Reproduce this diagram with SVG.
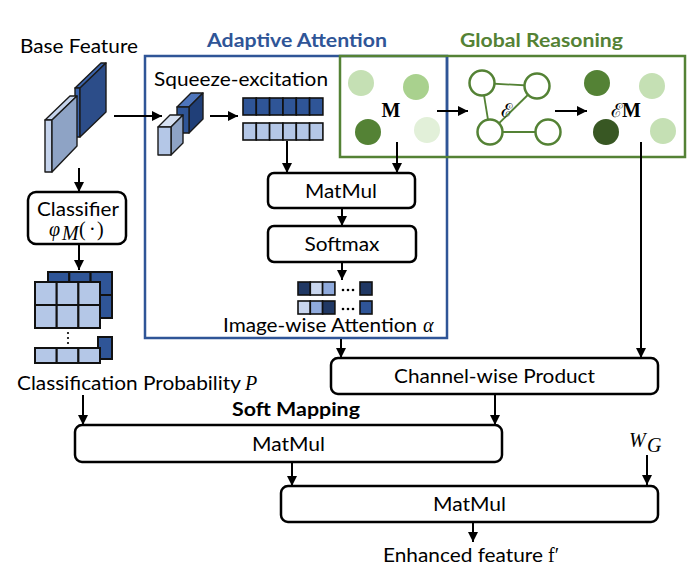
<svg xmlns="http://www.w3.org/2000/svg" width="698" height="569" viewBox="0 0 698 569">
<defs>
<marker id="ah" markerUnits="userSpaceOnUse" markerWidth="11" markerHeight="11" refX="10" refY="5" orient="auto">
<path d="M0,0 L10,5 L0,10 z" fill="#000"/>
</marker>
<style>
.lbl{font-family:Lato,"Liberation Sans",sans-serif;font-size:18.5px;fill:#000}
.ttl{font-family:Lato,"Liberation Sans",sans-serif;font-size:19px;font-weight:bold}
.math{font-family:"Liberation Serif","DejaVu Serif",serif;font-size:20px;font-style:italic;fill:#000}
.mb{font-family:"Liberation Serif","DejaVu Serif",serif;font-size:20px;font-weight:bold;fill:#000}
.scr{font-family:"DejaVu Serif",serif;font-size:19px;fill:#000}
.box{fill:#fff;stroke:#000;stroke-width:2.5}
.conn line{stroke:#000;stroke-width:2;marker-end:url(#ah)}
.cell{stroke:#111;stroke-width:1.6}
.slab{stroke:#1a1a1a;stroke-width:1.4;stroke-linejoin:round}
.gn{fill:#fff;stroke:#548235;stroke-width:2.5}
.ge{stroke:#548235;stroke-width:1.8}
.dk{fill:#2F5597}.lt{fill:#B4C7E7}.nv{fill:#203864}.md{fill:#8FAADC}.vl{fill:#C9D6EE}
</style>
</defs>
<rect width="698" height="569" fill="#fff"/>

<!-- Group frames -->
<g id="adaptive-attention">
<rect x="145" y="56" width="302" height="282" fill="none" stroke="#2F5597" stroke-width="2.5"/>
<text class="ttl" x="207" y="47" fill="#2F5597" textLength="180" lengthAdjust="spacingAndGlyphs">Adaptive Attention</text>
</g>
<g id="global-reasoning">
<rect x="340" y="56" width="345" height="101" fill="none" stroke="#548235" stroke-width="2.5"/>
<line x1="447" y1="57" x2="447" y2="156" stroke="#2F5597" stroke-width="2.5"/>
<text class="ttl" x="460" y="47" fill="#548235" textLength="163" lengthAdjust="spacingAndGlyphs">Global Reasoning</text>
</g>

<!-- Base feature -->
<g id="base-feature">
<text class="lbl" x="20" y="53" textLength="118" lengthAdjust="spacingAndGlyphs">Base Feature</text>
<polygon class="slab" points="75,88 101,63 106,63 80,88" fill="#3B64AD"/>
<polygon class="slab" points="75,88 80,88 80,137 75,137" fill="#3B64AD"/>
<polygon class="slab" points="80,88 106,63 106,112 80,137" fill="#2C4D89"/>
<polygon class="slab" points="45,120 70,96 77,96 52,120" fill="#C5D3EC"/>
<polygon class="slab" points="45,120 52,120 52,172 45,172" fill="#C5D3EC"/>
<polygon class="slab" points="52,120 77,96 77,146 52,172" fill="#8EA3C5"/>
</g>

<!-- Squeeze-excitation -->
<g id="squeeze-excitation">
<text class="lbl" x="154" y="86" textLength="174" lengthAdjust="spacingAndGlyphs">Squeeze-excitation</text>
<polygon class="slab" points="177,107 191,93 203,93 189,107" fill="#4E75BB"/>
<polygon class="slab" points="189,107 203,93 203,119 189,133" fill="#203F78"/>
<rect class="slab" x="177" y="107" width="12" height="26" fill="#2F5597"/>
<polygon class="slab" points="158,127 170,115 183,115 171,127" fill="#D6E0F1"/>
<polygon class="slab" points="171,127 183,115 183,143 171,155" fill="#8EA3C5"/>
<rect class="slab" x="158" y="127" width="13" height="28" fill="#B4C7E7"/>
<g class="cell">
<rect class="dk" x="243" y="98" width="13.3" height="17"/><rect class="dk" x="256.3" y="98" width="13.3" height="17"/><rect class="dk" x="269.6" y="98" width="13.3" height="17"/><rect class="dk" x="283" y="98" width="13.3" height="17"/><rect class="dk" x="296.3" y="98" width="13.3" height="17"/><rect class="dk" x="309.6" y="98" width="13.3" height="17"/>
<rect class="lt" x="243" y="123" width="13.3" height="17"/><rect class="lt" x="256.3" y="123" width="13.3" height="17"/><rect class="lt" x="269.6" y="123" width="13.3" height="17"/><rect class="lt" x="283" y="123" width="13.3" height="17"/><rect class="lt" x="296.3" y="123" width="13.3" height="17"/><rect class="lt" x="309.6" y="123" width="13.3" height="17"/>
</g>
</g>

<!-- M nodes -->
<g id="m-nodes">
<circle cx="361" cy="83" r="13" fill="#C5E0B4"/>
<circle cx="416" cy="87" r="13" fill="#A9D18E"/>
<circle cx="368" cy="132" r="13" fill="#548235"/>
<circle cx="427" cy="130" r="13" fill="#E2F0D9"/>
<text class="mb" x="391" y="117" text-anchor="middle">M</text>
</g>

<!-- Graph E -->
<g id="graph-e">
<line class="ge" x1="482" y1="83" x2="537" y2="86"/>
<line class="ge" x1="482" y1="83" x2="490" y2="132"/>
<line class="ge" x1="490" y1="132" x2="537" y2="86"/>
<line class="ge" x1="490" y1="132" x2="548" y2="132"/>
<circle class="gn" cx="482" cy="83" r="12.5"/>
<circle class="gn" cx="537" cy="86" r="12.5"/>
<circle class="gn" cx="490" cy="132" r="12.5"/>
<circle class="gn" cx="548" cy="132" r="12.5"/>
<text class="scr" x="506" y="117" text-anchor="middle">ℰ</text>
</g>

<!-- EM nodes -->
<g id="em-nodes">
<circle cx="597" cy="83" r="13" fill="#548235"/>
<circle cx="652" cy="86" r="13" fill="#C5E0B4"/>
<circle cx="606" cy="132" r="13" fill="#385723"/>
<circle cx="663" cy="131" r="13" fill="#C5E0B4"/>
<text class="scr" x="611" y="117">ℰ<tspan class="mb">M</tspan></text>
</g>

<!-- MatMul (attention) -->
<g id="matmul-att">
<rect class="box" x="268" y="173" width="147" height="35" rx="6"/>
<text class="lbl" x="341" y="198" text-anchor="middle" textLength="72" lengthAdjust="spacingAndGlyphs">MatMul</text>
</g>
<g id="softmax">
<rect class="box" x="268" y="226" width="148" height="36" rx="6"/>
<text class="lbl" x="342" y="251" text-anchor="middle" textLength="75" lengthAdjust="spacingAndGlyphs">Softmax</text>
</g>

<!-- Image-wise attention -->
<g id="image-attention">
<g class="cell">
<rect class="nv" x="298" y="282" width="12.3" height="13"/><rect class="vl" x="310.3" y="282" width="12.3" height="13"/><rect class="md" x="322.6" y="282" width="12.3" height="13"/><rect class="nv" x="360" y="282" width="12" height="13"/>
<rect class="vl" x="298" y="301" width="12.3" height="13"/><rect class="md" x="310.3" y="301" width="12.3" height="13"/><rect class="nv" x="322.6" y="301" width="12.3" height="13"/><rect class="dk" x="360" y="301" width="12" height="13"/>
</g>
<g fill="#000"><circle cx="343" cy="290" r="1.3"/><circle cx="348" cy="290" r="1.3"/><circle cx="353" cy="290" r="1.3"/><circle cx="343" cy="309" r="1.3"/><circle cx="348" cy="309" r="1.3"/><circle cx="353" cy="309" r="1.3"/></g>
<text class="lbl" x="223" y="332" textLength="194" lengthAdjust="spacingAndGlyphs">Image-wise Attention</text>
<text class="math" x="423" y="332">α</text>
</g>

<!-- Classifier -->
<g id="classifier">
<rect class="box" x="28" y="192" width="98" height="52" rx="8"/>
<text class="lbl" x="78" y="216" text-anchor="middle" textLength="82" lengthAdjust="spacingAndGlyphs">Classifier</text>
<text class="math" x="49" y="236">φ</text>
<text class="math" x="62" y="240" font-size="13">M</text>
<text x="79" y="236" font-family="'Liberation Serif',serif" font-size="20">(</text>
<text x="89" y="236" font-family="'Liberation Serif',serif" font-size="20">·</text>
<text x="97" y="236" font-family="'Liberation Serif',serif" font-size="20">)</text>
</g>

<!-- Classification probability -->
<g id="class-prob">
<g stroke="#111" stroke-width="2">
<rect class="dk" x="48" y="272" width="21.3" height="23"/><rect class="dk" x="69.3" y="272" width="21.3" height="23"/><rect class="dk" x="90.6" y="272" width="21.4" height="23"/>
<rect class="dk" x="48" y="295" width="21.3" height="23"/><rect class="dk" x="69.3" y="295" width="21.3" height="23"/><rect class="dk" x="90.6" y="295" width="21.4" height="23"/>
<rect class="lt" x="35" y="282" width="21.7" height="23"/><rect class="lt" x="56.7" y="282" width="21.7" height="23"/><rect class="lt" x="78.4" y="282" width="21.6" height="23"/>
<rect class="lt" x="35" y="305" width="21.7" height="23"/><rect class="lt" x="56.7" y="305" width="21.7" height="23"/><rect class="lt" x="78.4" y="305" width="21.6" height="23"/>
<rect class="dk" x="98" y="337" width="14" height="22"/>
<rect class="lt" x="35" y="348" width="21.7" height="15"/><rect class="lt" x="56.7" y="348" width="21.7" height="15"/><rect class="lt" x="78.4" y="348" width="21.6" height="15"/>
</g>
<g fill="#000"><circle cx="68" cy="333" r="1.1"/><circle cx="68" cy="338" r="1.1"/><circle cx="68" cy="343" r="1.1"/></g>
<text class="lbl" x="17" y="390" textLength="224" lengthAdjust="spacingAndGlyphs">Classification Probability</text>
<text class="math" x="245" y="390">P</text>
</g>

<!-- Channel-wise product -->
<g id="channel-product">
<rect class="box" x="331" y="358" width="327" height="36" rx="7"/>
<text class="lbl" x="494.5" y="383" text-anchor="middle" textLength="201" lengthAdjust="spacingAndGlyphs">Channel-wise Product</text>
</g>

<g id="soft-mapping">
<text class="lbl" x="232" y="416" font-weight="bold" textLength="128" lengthAdjust="spacingAndGlyphs">Soft Mapping</text>
</g>

<g id="matmul-1">
<rect class="box" x="75" y="425" width="427" height="37" rx="7"/>
<text class="lbl" x="288.5" y="451" text-anchor="middle" textLength="73" lengthAdjust="spacingAndGlyphs">MatMul</text>
</g>

<g id="wg">
<text class="math" x="629" y="447">W</text>
<text class="math" x="647" y="452" font-size="12">G</text>
</g>

<g id="matmul-2">
<rect class="box" x="281" y="486" width="377" height="36" rx="7"/>
<text class="lbl" x="469.5" y="511" text-anchor="middle" textLength="73" lengthAdjust="spacingAndGlyphs">MatMul</text>
</g>

<g id="enhanced-feature">
<text class="lbl" x="383" y="562" textLength="160" lengthAdjust="spacingAndGlyphs">Enhanced feature</text>
<text x="548" y="562" font-family="'Liberation Serif',serif" font-size="20">f′</text>
</g>

<!-- Connectors -->
<g class="conn" id="connectors">
<line x1="114" y1="116" x2="162" y2="116"/>
<line x1="210" y1="116" x2="238" y2="116"/>
<line x1="287" y1="141" x2="287" y2="173"/>
<line x1="397" y1="142" x2="397" y2="173"/>
<line x1="342" y1="208" x2="342" y2="226"/>
<line x1="342" y1="262" x2="342" y2="280"/>
<line x1="437" y1="111" x2="468" y2="111"/>
<line x1="555" y1="111" x2="587" y2="111"/>
<line x1="641" y1="142" x2="641" y2="358"/>
<line x1="341" y1="339" x2="341" y2="358"/>
<line x1="79" y1="168" x2="79" y2="192"/>
<line x1="79" y1="244" x2="79" y2="270"/>
<line x1="83" y1="395" x2="83" y2="425"/>
<line x1="495" y1="394" x2="495" y2="425"/>
<line x1="292" y1="462" x2="292" y2="486"/>
<line x1="647" y1="455" x2="647" y2="485"/>
<line x1="473" y1="522" x2="473" y2="542"/>
</g>
</svg>
